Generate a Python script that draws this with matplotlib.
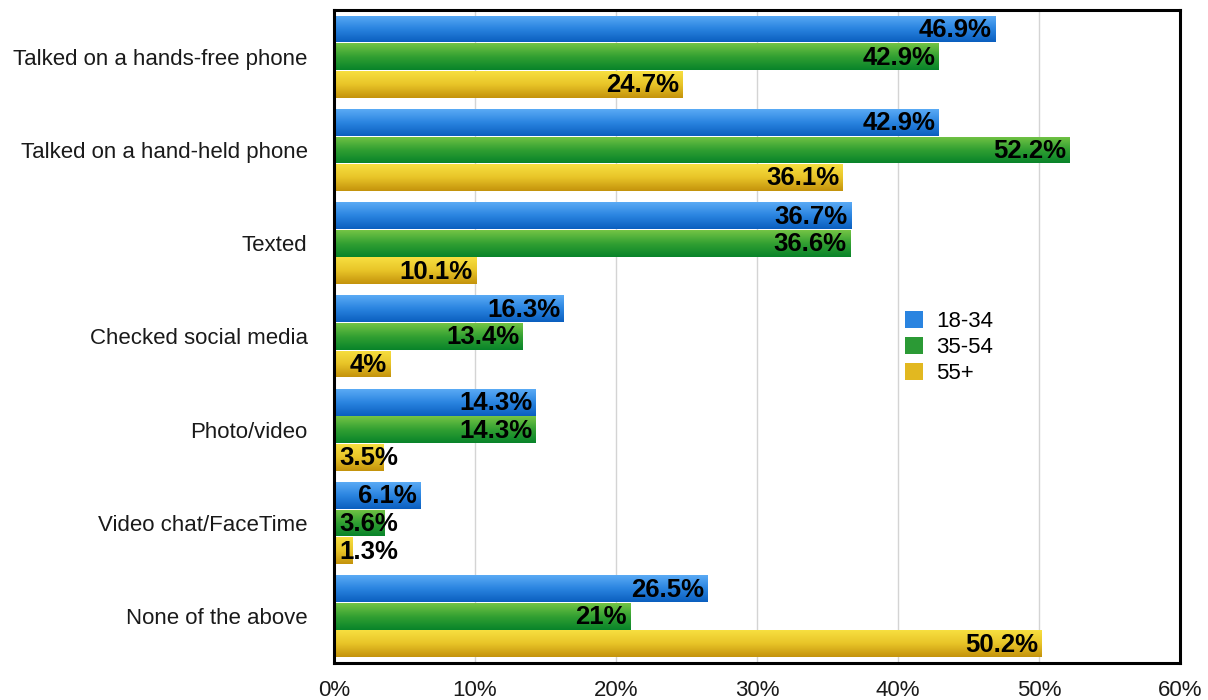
import numpy as np
import matplotlib
matplotlib.use("Agg")
import matplotlib.pyplot as plt
from matplotlib.colors import LinearSegmentedColormap
from matplotlib.patches import Patch

categories = [
    "Talked on a hands-free phone",
    "Talked on a hand-held phone",
    "Texted",
    "Checked social media",
    "Photo/video",
    "Video chat/FaceTime",
    "None of the above",
]
series_names = ["18-34", "35-54", "55+"]
age_18_34 = [46.9, 42.9, 36.7, 16.3, 14.3, 6.1, 26.5]
age_35_54 = [42.9, 52.2, 36.6, 13.4, 14.3, 3.6, 21]
age_55_plus = [24.7, 36.1, 10.1, 4, 3.5, 1.3, 50.2]
value_labels = [
    ["46.9%", "42.9%", "36.7%", "16.3%", "14.3%", "6.1%", "26.5%"],
    ["42.9%", "52.2%", "36.6%", "13.4%", "14.3%", "3.6%", "21%"],
    ["24.7%", "36.1%", "10.1%", "4%", "3.5%", "1.3%", "50.2%"],
]
x_ticks = [0, 10, 20, 30, 40, 50, 60]
x_tick_labels = ["0%", "10%", "20%", "30%", "40%", "50%", "60%"]

plt.rcParams["font.family"] = ["Liberation Sans", "DejaVu Sans"]

# gradient stops (top -> bottom) for each series
gradients = [
    ("#5aaaf5", "#2a84e0", "#0b5fbf"),
    ("#74c445", "#32a032", "#08842a"),
    ("#f7df40", "#e8c428", "#c4930c"),
]
legend_colors = ["#2a84e0", "#2b9a35", "#e2b820"]

fig = plt.figure(figsize=(12.08, 7.0), dpi=100)
ax = fig.add_axes([0.2765, 0.053, 0.7003, 0.9327])

series = [age_18_34, age_35_54, age_55_plus]
n = len(categories)
y = np.arange(n)
h = 0.296
offsets = [-h, 0, h]

for s, (vals, grad, off) in enumerate(zip(series, gradients, offsets)):
    cmap = LinearSegmentedColormap.from_list(f"g{s}", list(grad))
    bars = ax.barh(y + off, vals, height=h * 0.97, color=grad[1],
                   edgecolor="none", zorder=2)
    for bar, lab, v in zip(bars, value_labels[s], vals):
        x0, y0 = bar.get_x(), bar.get_y()
        w, bh = bar.get_width(), bar.get_height()
        grad_img = np.linspace(0, 1, 64).reshape(-1, 1)
        im = ax.imshow(grad_img, cmap=cmap, aspect="auto",
                       extent=[x0, x0 + w, y0 + bh, y0],
                       origin="upper", zorder=3, interpolation="bilinear")
        im.set_clip_path(bar)
        cy = y0 + bh / 2 + 0.01
        if v < 4:
            ax.text(0.35, cy, lab, ha="left", va="center", fontsize=18.5,
                    fontweight="bold", color="black", zorder=5)
        else:
            ax.text(v - 0.25, cy, lab, ha="right", va="center", fontsize=18.5,
                    fontweight="bold", color="black", zorder=5)

ax.set_xlim(0, 60)
ax.set_ylim(n - 0.5, -0.5)
ax.set_yticks(y)
ax.set_yticklabels(categories, fontsize=16, color="#1a1a1a")
ax.set_xticks(x_ticks)
ax.set_xticklabels(x_tick_labels, fontsize=16, color="#1a1a1a")
ax.tick_params(axis="y", length=0, pad=19)
ax.tick_params(axis="x", length=0, pad=12)
ax.xaxis.grid(True, color="#d4d4d4", linewidth=1, zorder=0)
ax.set_axisbelow(True)
for sp in ax.spines.values():
    sp.set_linewidth(2.2)
    sp.set_color("black")
    sp.set_zorder(6)

handles = [Patch(facecolor=c, edgecolor="none") for c in legend_colors]
ax.legend(handles, series_names, loc="upper left", frameon=False,
          fontsize=16, handlelength=0.8, handleheight=0.8, handletextpad=0.6,
          labelspacing=0.2, bbox_to_anchor=(0.7325, 0.584),
          bbox_transform=fig.transFigure)

fig.savefig("out.png", dpi=100)
